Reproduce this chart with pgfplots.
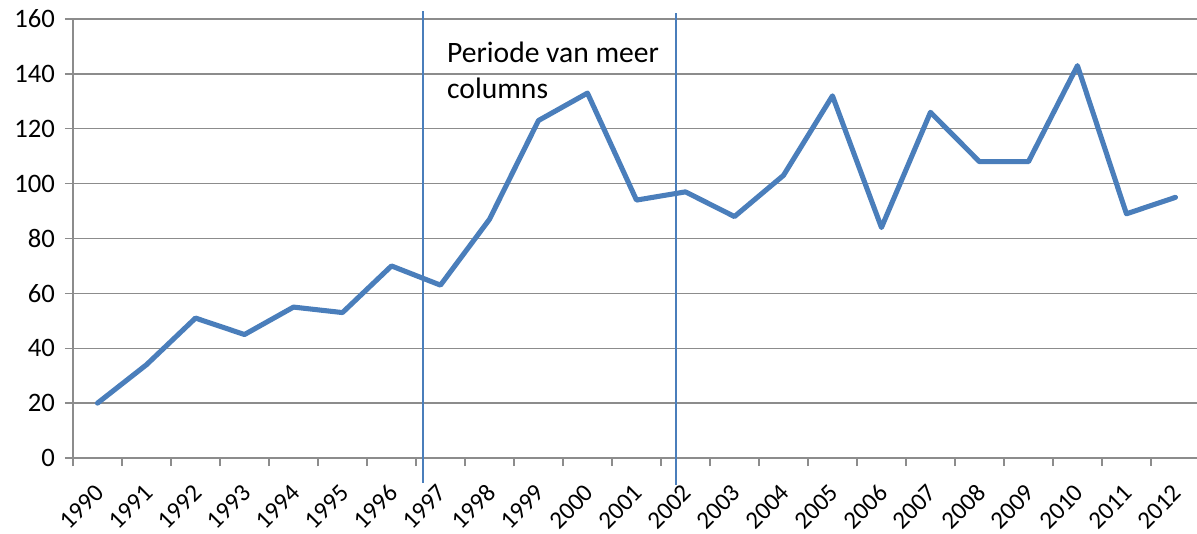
\documentclass[border=0pt]{standalone}
\usepackage{pgfplots}
\pgfplotsset{compat=1.18}
\usepackage{fontspec}
\setmainfont{Carlito}
\definecolor{exblue}{HTML}{4A7EBB}
\definecolor{grgray}{HTML}{8C8C8C}
\begin{document}
\begin{tikzpicture}
\useasboundingbox (0,0) rectangle (897.75pt,399.75pt);
\begin{axis}[
  at={(54.75pt,56.25pt)}, anchor=south west,
  scale only axis, width=843pt, height=329.25pt,
  xmin=-0.5, xmax=22.44, ymin=0, ymax=160,
  axis x line*=bottom, axis y line*=left,
  axis line style={grgray, line width=1.1pt},
  clip=false,
  ytick={0,20,...,160},
  ymajorgrids, grid style={grgray, line width=1.1pt},
  xtick={0,...,22},
  xticklabels={1990,1991,1992,1993,1994,1995,1996,1997,1998,1999,2000,2001,2002,2003,2004,2005,2006,2007,2008,2009,2010,2011,2012},
  minor xtick={-0.5,0.5,...,21.5},
  major x tick style={draw=none},
  minor x tick style={grgray, line width=1.1pt},
  y tick style={grgray, line width=1.1pt},
  tick align=outside,
  major tick length=6pt, minor tick length=6pt,
  /pgf/number format/assume math mode=true,
  ticklabel style={text=black},
  yticklabel style={xshift=-4pt, font=\fontsize{20}{23}\selectfont},
  xticklabel style={xshift=-3pt, yshift=-11pt, rotate=45, anchor=north east, inner sep=1pt, font=\fontsize{18.7}{22}\selectfont},
]
\addplot[exblue, line width=3.8pt, line join=round, line cap=round] coordinates {
(0,20) (1,34) (2,51) (3,45) (4,55) (5,53) (6,70) (7,63) (8,87) (9,123) (10,133)
(11,94) (12,97) (13,88) (14,103) (15,132) (16,84) (17,126) (18,108) (19,108)
(20,143) (21,89) (22,95)};
\addplot[color=exblue, line width=1.3pt] coordinates {(6.64,-9.1) (6.64,163)};
\addplot[color=exblue, line width=1.3pt] coordinates {(11.8,-9.8) (11.8,162.3)};
\node[anchor=base west, inner sep=0pt, font=\fontsize{22.2}{26}\selectfont] at (axis cs:7.13,144) {Periode van meer};
\node[anchor=base west, inner sep=0pt, font=\fontsize{22.2}{26}\selectfont] at (axis cs:7.13,131) {columns};
\end{axis}
\end{tikzpicture}
\end{document}
